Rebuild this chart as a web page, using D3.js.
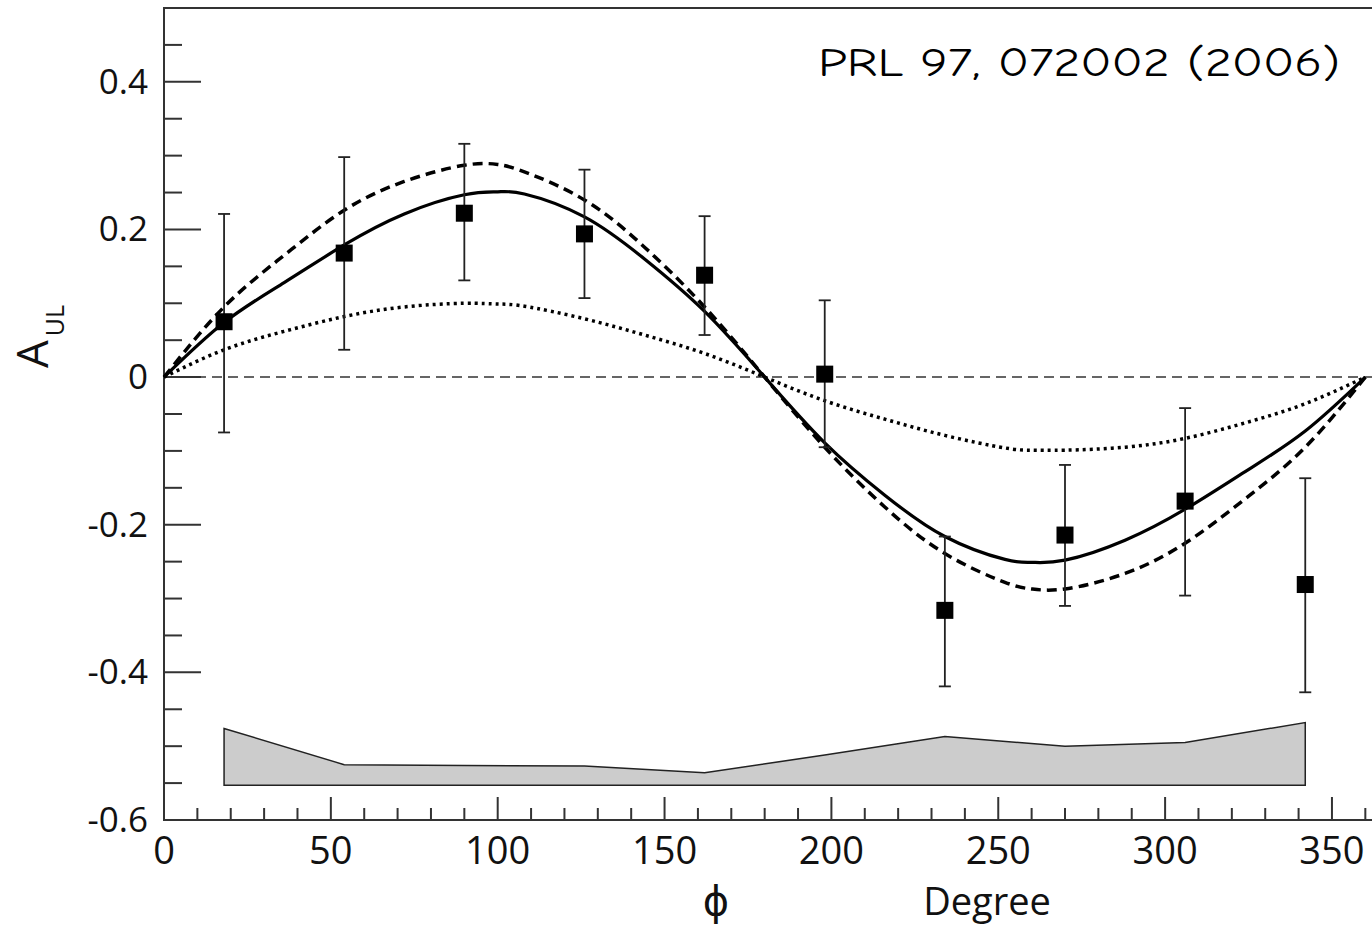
<!DOCTYPE html>
<html>
<head>
<meta charset="utf-8">
<script src="https://cdn.jsdelivr.net/npm/d3@7"></script>
<style>
  body { margin: 0; background: #fff; }
  svg { display: block; }
  .tick-label { font-family: "Open Sans", "Noto Sans", sans-serif; fill: #111; }
</style>
</head>
<body>
<svg id="chart" width="1372" height="929"></svg>
<script>
'use strict';

// measured points (phi in degrees, A_UL)
const phiData = [18, 54, 90, 126, 162, 198, 234, 270, 306, 342];
const aulData = [0.075, 0.168, 0.222, 0.194, 0.138, 0.004, -0.316, -0.214, -0.168, -0.281];
const errLow = [-0.075, 0.037, 0.131, 0.107, 0.057, -0.095, -0.419, -0.310, -0.296, -0.427];
const errHigh = [0.221, 0.298, 0.316, 0.281, 0.218, 0.104, -0.216, -0.119, -0.042, -0.137];

// systematic band (top edge per point, common bottom)
const bandTop = [-0.476, -0.525, -0.526, -0.527, -0.536, -0.512, -0.487, -0.500, -0.495, -0.468];
const bandBottom = -0.553;

// curves
const curvePhi = [0, 18, 36, 54, 72, 90, 100, 108, 126, 144, 162, 180, 198, 216, 234, 252, 260, 270, 288, 306, 324, 342, 360];
const solidCurve = [0, 0.074, 0.128, 0.179, 0.221, 0.247, 0.251, 0.248, 0.217, 0.160, 0.089, 0, -0.089, -0.160, -0.216, -0.247, -0.251, -0.248, -0.221, -0.179, -0.128, -0.073, 0];
const dashedCurve = [0, 0.095, 0.165, 0.226, 0.265, 0.287, 0.288, 0.278, 0.240, 0.176, 0.095, 0, -0.095, -0.176, -0.239, -0.278, -0.287, -0.287, -0.266, -0.225, -0.165, -0.095, 0];
const dottedCurve = [0, 0.037, 0.062, 0.082, 0.095, 0.100, 0.099, 0.096, 0.079, 0.057, 0.032, 0, -0.032, -0.057, -0.079, -0.096, -0.099, -0.099, -0.095, -0.083, -0.062, -0.036, 0];

const yTickLabels = [-0.6, -0.4, -0.2, 0, 0.2, 0.4];
const xTickLabels = [0, 50, 100, 150, 200, 250, 300, 350];

const svg = d3.select('#chart');

const x = d3.scaleLinear().domain([0, 362]).range([164, 1372]);
const y = d3.scaleLinear().domain([-0.6, 0.5]).range([820, 8]);

// frame
svg.append('rect')
    .attr('x', x(0)).attr('y', y(0.5))
    .attr('width', x(362) - x(0) + 2).attr('height', y(-0.6) - y(0.5))
    .attr('fill', 'none').attr('stroke', '#333').attr('stroke-width', 2);

// y ticks, pointing inward
const yMinor = d3.range(-0.55, 0.49, 0.05).map(v => +v.toFixed(2));
svg.append('g').selectAll('line').data(yMinor).join('line')
    .attr('x1', x(0)).attr('x2', d => x(0) + (yTickLabels.includes(d) ? 37 : 18))
    .attr('y1', d => y(d)).attr('y2', d => y(d))
    .attr('stroke', '#333').attr('stroke-width', 2);

svg.append('g').selectAll('text').data(yTickLabels).join('text')
    .attr('class', 'tick-label')
    .attr('x', 148).attr('y', d => y(d) + 12)
    .attr('text-anchor', 'end')
    .attr('font-size', 35)
    .text(d => d === 0 ? '0' : d.toFixed(1));

// x ticks, pointing inward
const xMinor = d3.range(10, 361, 10);
svg.append('g').selectAll('line').data(xMinor).join('line')
    .attr('x1', d => x(d)).attr('x2', d => x(d))
    .attr('y1', y(-0.6)).attr('y2', d => y(-0.6) - (d % 50 === 0 ? 23 : 12))
    .attr('stroke', '#333').attr('stroke-width', 2);

svg.append('g').selectAll('text').data(xTickLabels).join('text')
    .attr('class', 'tick-label')
    .attr('x', d => x(d)).attr('y', 864)
    .attr('text-anchor', 'middle')
    .attr('font-size', 38)
    .text(d => d);

// zero line
svg.append('line')
    .attr('x1', x(0)).attr('x2', x(362))
    .attr('y1', y(0)).attr('y2', y(0))
    .attr('stroke', '#333').attr('stroke-width', 1.5)
    .attr('stroke-dasharray', '10,6');

// systematic band
const bandPts = phiData.map((p, i) => [p, bandTop[i]]);
const band = d3.area()
    .x(d => x(d[0]))
    .y0(y(bandBottom))
    .y1(d => y(d[1]));
svg.append('path')
    .datum(bandPts)
    .attr('d', band)
    .attr('fill', '#cccccc').attr('stroke', '#222').attr('stroke-width', 1.5);

// theory curves
const line = d3.line()
    .x(d => x(d[0]))
    .y(d => y(d[1]))
    .curve(d3.curveNatural);

const curves = [
    { vals: dottedCurve, width: 3.5, dash: '3,4' },
    { vals: dashedCurve, width: 3.5, dash: '10,6' },
    { vals: solidCurve, width: 3.2, dash: null }
];
curves.forEach(c => {
    svg.append('path')
        .datum(curvePhi.map((p, i) => [p, c.vals[i]]))
        .attr('d', line)
        .attr('fill', 'none')
        .attr('stroke', '#000')
        .attr('stroke-width', c.width)
        .attr('stroke-dasharray', c.dash);
});

// error bars
const eb = svg.append('g').attr('stroke', '#222').attr('stroke-width', 1.8);
phiData.forEach((p, i) => {
    eb.append('line')
        .attr('x1', x(p)).attr('x2', x(p))
        .attr('y1', y(errLow[i])).attr('y2', y(errHigh[i]));
    [errLow[i], errHigh[i]].forEach(v => {
        eb.append('line')
            .attr('x1', x(p) - 6).attr('x2', x(p) + 6)
            .attr('y1', y(v)).attr('y2', y(v));
    });
});

// markers
svg.append('g').selectAll('rect').data(phiData).join('rect')
    .attr('x', d => x(d) - 8.5)
    .attr('y', (d, i) => y(aulData[i]) - 8.5)
    .attr('width', 17).attr('height', 17)
    .attr('fill', '#000');

// axis titles
const yl = svg.append('text')
    .attr('transform', 'translate(48,' + 368 + ') rotate(-90)')
    .attr('font-family', '"Open Sans", "Noto Sans", sans-serif')
    .attr('fill', '#111');
yl.append('tspan').attr('font-size', 44).text('A');
yl.append('tspan').attr('font-size', 25).attr('dx', 4).attr('dy', 16).text('UL');

svg.append('text')
    .attr('x', 716).attr('y', 915)
    .attr('text-anchor', 'middle')
    .attr('font-family', '"DejaVu Sans", sans-serif')
    .attr('font-size', 40)
    .attr('fill', '#111')
    .text('\u03D5');

svg.append('text')
    .attr('x', 987).attr('y', 915)
    .attr('text-anchor', 'middle')
    .attr('font-family', '"Open Sans", "Noto Sans", sans-serif')
    .attr('font-size', 38)
    .attr('fill', '#111')
    .text('Degree');

// reference note
svg.append('text')
    .attr('x', 818).attr('y', 76)
    .attr('font-family', '"Comic Sans MS", "Comic Neue", "DejaVu Sans", sans-serif')
    .attr('font-size', 41)
    .attr('textLength', 522)
    .attr('lengthAdjust', 'spacingAndGlyphs')
    .attr('fill', '#000')
    .text('PRL 97, 072002 (2006)');
</script>
</body>
</html>
